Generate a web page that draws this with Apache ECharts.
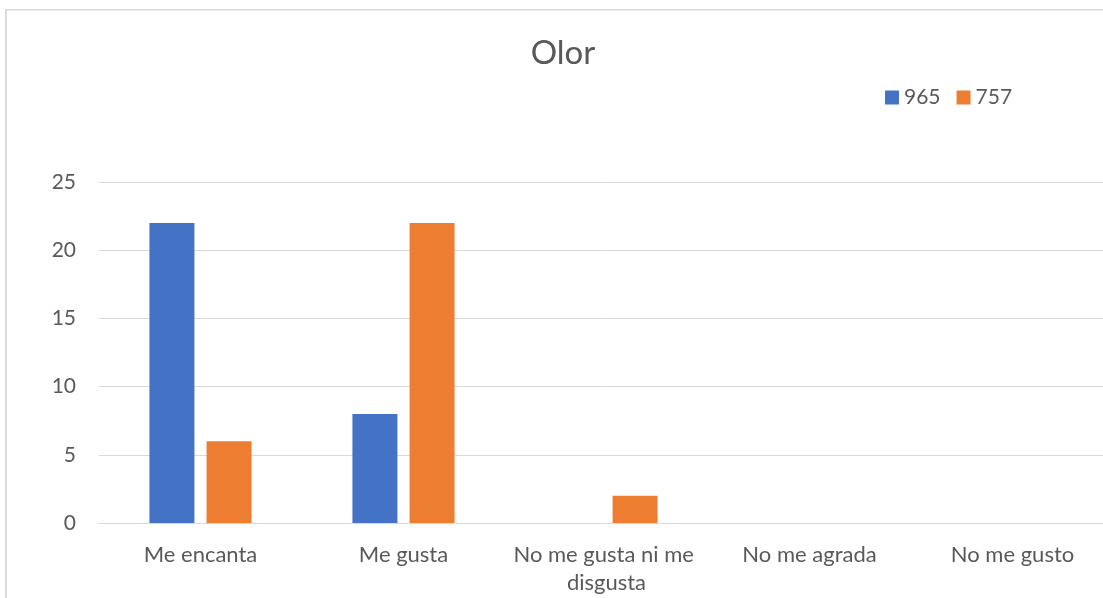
<!DOCTYPE html>
<html>
<head>
<meta charset="utf-8">
<script src="https://cdn.jsdelivr.net/npm/echarts@6/dist/echarts.min.js"></script>
<style>
  html, body { margin: 0; padding: 0; background: #ffffff; }
  #chart { width: 1103px; height: 598px; }
</style>
</head>
<body>
<div id="chart"></div>
<script>
// Rating categories and response counts per sample
const categories = ['Me encanta', 'Me gusta', 'No me gusta ni me disgusta', 'No me agrada', 'No me gusto'];
const seriesNames = ['965', '757'];
const values965 = [22, 8, 0, 0, 0];
const values757 = [6, 22, 2, 0, 0];
const yTicks = { min: 0, max: 25, interval: 5 };

const textColor = '#595959';
const gridColor = '#d9d9d9';
const fontFamily = 'Lato, "Liberation Sans", sans-serif';

const chart = echarts.init(document.getElementById('chart'), null, { renderer: 'canvas' });

chart.setOption({
  animation: false,
  backgroundColor: '#ffffff',
  title: {
    text: 'Olor',
    left: 558,
    textAlign: 'center',
    top: 32,
    textStyle: { color: textColor, fontSize: 33, fontWeight: 'normal', fontFamily: fontFamily }
  },
  legend: {
    data: seriesNames,
    left: 880,
    top: 82,
    itemWidth: 14,
    itemHeight: 14,
    itemGap: 16,
    icon: 'rect',
    textStyle: { color: textColor, fontSize: 21, fontFamily: fontFamily }
  },
  graphic: [
    { type: 'rect', shape: { x: 5, y: 9, width: 2, height: 600 }, style: { fill: '#d9d9d9' }, silent: true },
    { type: 'rect', shape: { x: 5, y: 9, width: 1200, height: 1.5 }, style: { fill: '#d9d9d9' }, silent: true }
  ],
  // plot area runs past the right edge of the canvas
  grid: { left: 99, width: 1015, top: 182, bottom: 75, containLabel: false, outerBoundsMode: 'none' },
  xAxis: {
    type: 'category',
    data: categories,
    axisLine: { lineStyle: { color: gridColor, width: 1 } },
    axisTick: { show: false },
    axisLabel: {
      interval: 0,
      margin: 18,
      color: textColor,
      fontSize: 22,
      lineHeight: 28,
      fontFamily: fontFamily,
      width: 196,
      overflow: 'break'
    }
  },
  yAxis: {
    type: 'value',
    min: yTicks.min,
    max: yTicks.max,
    interval: yTicks.interval,
    axisLine: { show: false },
    axisTick: { show: false },
    splitLine: { lineStyle: { color: gridColor, width: 1 } },
    axisLabel: { color: textColor, fontSize: 21, fontFamily: fontFamily, margin: 23 }
  },
  series: [
    {
      name: seriesNames[0],
      type: 'bar',
      data: values965,
      barWidth: 45,
      barGap: '27%',
      itemStyle: { color: '#4472c4' }
    },
    {
      name: seriesNames[1],
      type: 'bar',
      data: values757,
      barWidth: 45,
      barGap: '27%',
      itemStyle: { color: '#ed7d31' }
    }
  ]
});
</script>
</body>
</html>
